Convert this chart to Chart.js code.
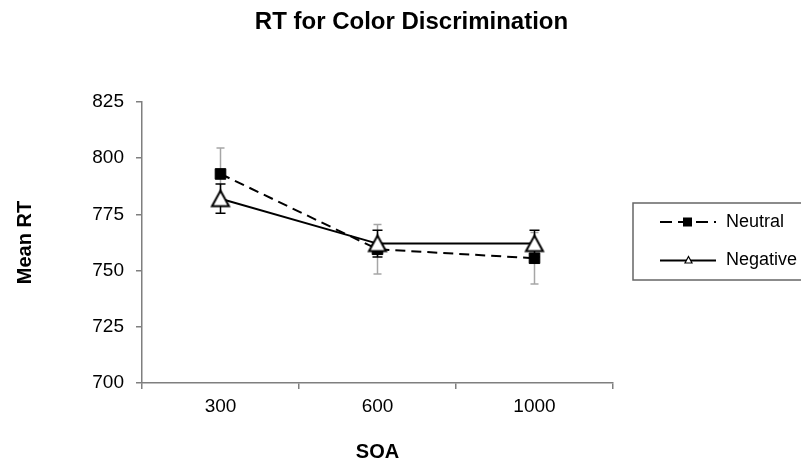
<!DOCTYPE html>
<html>
<head>
<meta charset="utf-8">
<script src="https://cdn.jsdelivr.net/npm/chart.js@4"></script>
<style>
  html, body { margin: 0; padding: 0; background: #fff; }
  #wrap { width: 801px; height: 463px; }
</style>
</head>
<body>
<div id="wrap"><canvas id="rtChart" width="801" height="463"></canvas></div>
<script>
// chart data
const soaLabels = ["300", "600", "1000"];
const neutralRT = [793, 759.5, 755.5];
const neutralErr = [11.5, 11, 11.5];
const negativeRT = [782, 762, 762];
const negativeErr = [6.5, 6, 6];
const seriesNames = ["Neutral", "Negative"];
const chartTitle = "RT for Color Discrimination";

const FONT = "'Liberation Sans', Arial, sans-serif";
const AXIS_GRAY = "#7f7f7f";

// open triangle marker, centred on its bounding box like the Excel one
const triMarker = document.createElement("canvas");
triMarker.width = 22;
triMarker.height = 22;
(() => {
  const c = triMarker.getContext("2d");
  c.fillStyle = "#fff";
  c.strokeStyle = "#000";
  c.lineWidth = 2;
  c.lineJoin = "miter";
  c.beginPath();
  c.moveTo(11, 3);
  c.lineTo(19.5, 18.5);
  c.lineTo(2.5, 18.5);
  c.closePath();
  c.fill();
  c.stroke();
})();

// error bars, drawn behind the markers
const errorBars = {
  id: "errorBars",
  beforeDatasetsDraw(chart) {
    const ctx = chart.ctx;
    const y = chart.scales.y;
    const x = chart.scales.x;
    const sets = [
      { vals: neutralRT, err: neutralErr, color: "#a6a6a6", cap: 4 },
      { vals: negativeRT, err: negativeErr, color: "#000", cap: 5 },
    ];
    ctx.save();
    sets.forEach((s) => {
      ctx.strokeStyle = s.color;
      ctx.lineWidth = 1.5;
      s.vals.forEach((v, i) => {
        const px = x.getPixelForValue(i);
        const top = y.getPixelForValue(v + s.err[i]);
        const bot = y.getPixelForValue(v - s.err[i]);
        ctx.beginPath();
        ctx.moveTo(px, top);
        ctx.lineTo(px, bot);
        ctx.moveTo(px - s.cap, top);
        ctx.lineTo(px + s.cap, top);
        ctx.moveTo(px - s.cap, bot);
        ctx.lineTo(px + s.cap, bot);
        ctx.stroke();
      });
    });
    ctx.restore();
  },
};

// title and boxed legend (legend runs off the right edge like the original)
const decorations = {
  id: "decorations",
  afterDraw(chart) {
    const ctx = chart.ctx;
    ctx.save();
    ctx.fillStyle = "#000";
    ctx.textAlign = "center";
    ctx.textBaseline = "middle";
    ctx.font = "bold 24px " + FONT;
    ctx.fillText(chartTitle, 411.5, 22);

    ctx.textAlign = "left";
    ctx.strokeStyle = "#666";
    ctx.lineWidth = 1.5;
    ctx.strokeRect(633, 203, 200, 77);

    ctx.font = "18px " + FONT;

    // Neutral
    ctx.strokeStyle = "#000";
    ctx.lineWidth = 2;
    ctx.setLineDash([12, 6]);
    ctx.beginPath();
    ctx.moveTo(660, 222);
    ctx.lineTo(716, 222);
    ctx.stroke();
    ctx.setLineDash([]);
    ctx.fillRect(683, 217.5, 9, 9);
    ctx.fillText(seriesNames[0], 726, 222);

    // Negative
    ctx.beginPath();
    ctx.moveTo(660, 260.5);
    ctx.lineTo(716, 260.5);
    ctx.stroke();
    ctx.fillStyle = "#fff";
    ctx.lineWidth = 1.2;
    ctx.beginPath();
    ctx.moveTo(688.5, 256.5);
    ctx.lineTo(692, 263);
    ctx.lineTo(685, 263);
    ctx.closePath();
    ctx.fill();
    ctx.stroke();
    ctx.fillStyle = "#000";
    ctx.fillText(seriesNames[1], 726, 260);
    ctx.restore();
  },
};

new Chart(document.getElementById("rtChart"), {
  type: "line",
  data: {
    labels: soaLabels,
    datasets: [
      {
        label: seriesNames[0],
        data: neutralRT,
        borderColor: "#000",
        borderWidth: 2,
        borderDash: [10, 6],
        pointStyle: "rect",
        pointRadius: 7.5,
        pointBackgroundColor: "#000",
        pointBorderColor: "#000",
        pointBorderWidth: 1,
        order: 1,
      },
      {
        label: seriesNames[1],
        data: negativeRT,
        borderColor: "#000",
        borderWidth: 2,
        pointStyle: triMarker,
        pointRadius: 10,
        order: 0,
      },
    ],
  },
  options: {
    responsive: false,
    animation: false,
    layout: { padding: { left: 0, right: 188, top: 102, bottom: 0 } },
    plugins: {
      legend: { display: false },
      tooltip: { enabled: false },
      title: { display: false },
    },
    scales: {
      x: {
        offset: true,
        afterFit: (scale) => {
          scale.height = 80;
        },
        grid: {
          offset: true,
          drawOnChartArea: false,
          drawTicks: true,
          tickLength: 6,
          color: AXIS_GRAY,
          lineWidth: 1.5,
        },
        border: { color: AXIS_GRAY, width: 1.5 },
        ticks: { color: "#000", font: { family: FONT, size: 19 }, padding: 6 },
        title: {
          display: true,
          text: "SOA",
          color: "#000",
          font: { family: FONT, size: 20, weight: "bold" },
          padding: { top: 0, bottom: -1 },
        },
      },
      y: {
        min: 700,
        max: 825,
        afterFit: (scale) => {
          scale.width = 142;
        },
        ticks: {
          stepSize: 25,
          color: "#000",
          font: { family: FONT, size: 19 },
          padding: 12,
        },
        grid: {
          drawOnChartArea: false,
          drawTicks: true,
          tickLength: 6,
          color: AXIS_GRAY,
          lineWidth: 1.5,
        },
        border: { color: AXIS_GRAY, width: 1.5 },
        title: {
          display: true,
          text: "Mean RT",
          color: "#000",
          font: { family: FONT, size: 20, weight: "bold" },
          padding: { top: 13, bottom: 0 },
        },
      },
    },
  },
  plugins: [errorBars, decorations],
});
</script>
</body>
</html>
